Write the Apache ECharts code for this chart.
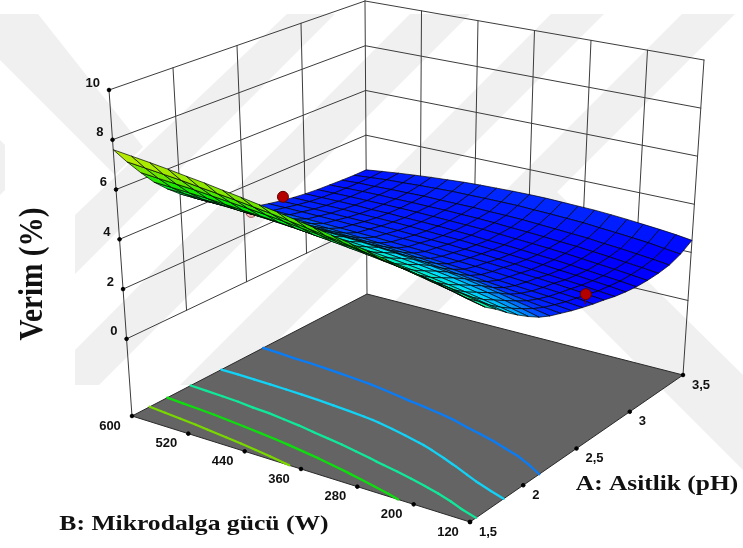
<!DOCTYPE html>
<html><head><meta charset="utf-8">
<style>html,body{margin:0;padding:0;background:#fff}#c{width:743px;height:548px}</style>
<script src="https://cdn.jsdelivr.net/npm/echarts@6/dist/echarts.min.js"></script>
</head><body><div id="c"></div>
<script>
// ---- chart data ----
const acidTicks = [1.5, 2, 2.5, 3, 3.5];
const acidLabels = ['1,5', '2', '2,5', '3', '3,5'];
const powerTicks = [120, 200, 280, 360, 440, 520, 600];
const yieldTicks = [0, 2, 4, 6, 8, 10];
const contourLevels = [2.95, 3.9, 4.8, 5.7, 6.6];
const acidMesh = [1.5,1.6,1.7,1.8,1.9,2.0,2.1,2.2,2.3,2.4,2.5,2.6,2.7,2.8,2.9,3.0,3.1,3.2,3.3,3.4,3.5];
const powerMesh = [120,144,168,192,216,240,264,288,312,336,360,384,408,432,456,480,504,528,552,576,600];
// rows: acidMesh, columns: powerMesh
const yieldGrid = [
[5.03,5.20,5.36,5.51,5.66,5.82,5.96,6.11,6.25,6.38,6.51,6.64,6.76,6.88,6.99,7.11,7.21,7.32,7.42,7.51,7.60],
[4.62,4.77,4.93,5.07,5.21,5.35,5.48,5.61,5.74,5.85,5.97,6.08,6.20,6.30,6.40,6.49,6.58,6.68,6.76,6.84,6.92],
[4.31,4.44,4.58,4.71,4.83,4.95,5.07,5.19,5.30,5.39,5.50,5.59,5.69,5.78,5.86,5.94,6.02,6.10,6.16,6.22,6.29],
[3.95,4.07,4.20,4.31,4.42,4.54,4.65,4.75,4.85,4.94,5.03,5.11,5.20,5.28,5.35,5.41,5.48,5.55,5.60,5.65,5.70],
[3.62,3.75,3.88,4.00,4.12,4.23,4.34,4.42,4.51,4.58,4.67,4.74,4.81,4.88,4.94,5.00,5.04,5.11,5.14,5.19,5.22],
[3.32,3.47,3.62,3.75,3.87,3.98,4.08,4.17,4.25,4.32,4.39,4.44,4.50,4.56,4.60,4.65,4.67,4.72,4.75,4.77,4.80],
[3.05,3.21,3.36,3.50,3.62,3.74,3.84,3.93,4.01,4.07,4.13,4.18,4.22,4.26,4.30,4.33,4.37,4.39,4.41,4.42,4.44],
[2.85,2.97,3.10,3.24,3.36,3.47,3.57,3.66,3.74,3.82,3.88,3.93,3.97,4.00,4.03,4.05,4.07,4.08,4.09,4.10,4.10],
[2.70,2.77,2.86,2.95,3.05,3.15,3.24,3.32,3.40,3.47,3.53,3.58,3.63,3.67,3.70,3.72,3.74,3.75,3.76,3.77,3.77],
[2.55,2.62,2.68,2.74,2.80,2.87,2.95,3.03,3.10,3.16,3.22,3.27,3.31,3.35,3.38,3.41,3.43,3.45,3.46,3.47,3.47],
[2.42,2.48,2.53,2.58,2.63,2.68,2.74,2.79,2.84,2.89,2.94,2.98,3.02,3.06,3.09,3.12,3.15,3.17,3.19,3.20,3.21],
[2.30,2.37,2.42,2.47,2.52,2.57,2.62,2.66,2.70,2.74,2.77,2.80,2.83,2.86,2.88,2.90,2.92,2.94,2.95,2.96,2.97],
[2.20,2.26,2.32,2.38,2.43,2.47,2.53,2.57,2.60,2.64,2.68,2.71,2.73,2.76,2.79,2.80,2.82,2.83,2.84,2.85,2.85],
[2.08,2.14,2.21,2.26,2.31,2.36,2.42,2.46,2.51,2.54,2.58,2.60,2.63,2.66,2.68,2.70,2.71,2.72,2.73,2.74,2.74],
[2.00,2.07,2.13,2.19,2.24,2.30,2.35,2.39,2.43,2.47,2.51,2.53,2.56,2.59,2.61,2.62,2.63,2.65,2.65,2.65,2.65],
[1.94,2.01,2.07,2.13,2.19,2.25,2.29,2.34,2.38,2.41,2.46,2.49,2.52,2.54,2.55,2.57,2.57,2.59,2.59,2.59,2.58],
[1.93,2.00,2.07,2.13,2.19,2.25,2.30,2.34,2.38,2.42,2.46,2.48,2.50,2.52,2.54,2.55,2.55,2.55,2.55,2.54,2.53],
[1.95,2.03,2.09,2.16,2.22,2.28,2.32,2.37,2.41,2.44,2.48,2.51,2.52,2.54,2.54,2.55,2.54,2.55,2.54,2.52,2.50],
[2.02,2.10,2.17,2.24,2.29,2.36,2.40,2.44,2.48,2.52,2.54,2.55,2.57,2.57,2.57,2.58,2.56,2.55,2.52,2.51,2.47],
[2.20,2.28,2.37,2.43,2.49,2.54,2.60,2.63,2.66,2.68,2.71,2.71,2.71,2.70,2.70,2.67,2.64,2.60,2.57,2.51,2.45],
[2.50,2.59,2.66,2.72,2.78,2.83,2.87,2.89,2.91,2.93,2.93,2.92,2.90,2.88,2.85,2.80,2.75,2.69,2.62,2.54,2.45]
];
// design points: acidity, power, measured yield, fitted yield
const designAbove = [[2.82, 600, 2.87, 2.72], [2.56, 125, 2.76, 2.38]];
const designBelow = [[2.56, 600, 2.82, 3.02]];

// ---- scene geometry (camera of the picture) ----
const FLOOR_Z = -3.1, TOP_Z = 10;
const floorQuad = [[470,522],[683,375],[367,294],[132,416]];
const topQuad = [[477,168],[704,60],[365,1],[109,90]];
const rampZ = [2.2,2.9,3.1,3.9,4.8,5.7,6.6,7.6];
const rampC = [[0,0,255],[0,45,255],[0,100,255],[0,225,255],[0,255,128],[0,230,0],[120,230,0],[215,240,0]];
const contourColors = ['#0a7cf5','#12d2f5','#10e89a','#10dc10','#78d800'];
const LINE = '#3c3c3c';

function quadMap(q){
  return (u,v)=>[0,1].map(n=>(1-u)*(1-v)*q[0][n]+u*(1-v)*q[1][n]+u*v*q[2][n]+(1-u)*v*q[3][n]);
}
const floorMap=quadMap(floorQuad), topMap=quadMap(topQuad);
function project(A,B,z){
  const u=(A-1.5)/2, v=(B-120)/480, t=(z-FLOOR_Z)/(TOP_Z-FLOOR_Z);
  const p=floorMap(u,v), q=topMap(u,v);
  return [p[0]+t*(q[0]-p[0]), p[1]+t*(q[1]-p[1])];
}
function rampColor(z){
  let k=0; while(k<rampZ.length-2 && z>rampZ[k+1]) k++;
  const t=Math.max(0,Math.min(1,(z-rampZ[k])/(rampZ[k+1]-rampZ[k])));
  const c=rampC[k].map((v,n)=>Math.round(v+t*(rampC[k+1][n]-v)));
  return 'rgb('+c.join(',')+')';
}
const toLine=(api,a,b,color,w)=>{const p=api.coord(a),q=api.coord(b);return {type:'line',silent:true,
  shape:{x1:p[0],y1:p[1],x2:q[0],y2:q[1]},style:{stroke:color,lineWidth:w,lineCap:'round'}};};
const dot=(api,a,r,fill,stroke)=>{const p=api.coord(a);return {type:'circle',shape:{cx:p[0],cy:p[1],r:r},style:{fill:fill,stroke:stroke||fill,lineWidth:1}};};
const label=(api,a,text,align,dx,dy,font)=>{const p=api.coord(a);return {type:'text',style:{text:text,x:p[0]+dx,y:p[1]+dy,align:align,verticalAlign:'middle',
  font:font||'bold 13px "Liberation Sans"',fill:'#111'}};};
function layer(data,renderItem,z){
  return {type:'custom',coordinateSystem:'cartesian2d',data:data,renderItem:renderItem,z:z,clip:false,silent:true,animation:false,progressive:0,
    encode:{x:0,y:1}};
}

// ---- wall gridlines ----
const wallRender=(p,api)=>{
  const kids=[];
  const Amin=acidTicks[0],Amax=acidTicks[acidTicks.length-1],Bmin=powerTicks[0],Bmax=powerTicks[powerTicks.length-1];
  yieldTicks.forEach(z=>{
    kids.push(toLine(api,project(Amin,Bmax,z),project(Amax,Bmax,z),LINE,1));
    kids.push(toLine(api,project(Amax,Bmax,z),project(Amax,Bmin,z),LINE,1));
  });
  acidTicks.forEach(a=>{const bottom=(a===Amin||a===Amax)?FLOOR_Z:0;
    kids.push(toLine(api,project(a,Bmax,bottom),project(a,Bmax,TOP_Z),LINE,1));});
  powerTicks.forEach(b=>{const bottom=(b===Bmin)?FLOOR_Z:0;
    if(b!==Bmax) kids.push(toLine(api,project(Amax,b,bottom),project(Amax,b,TOP_Z),LINE,1));});
  return {type:'group',children:kids};
};
// ---- floor ----
const floorRender=(p,api)=>({type:'polygon',shape:{points:[[1.5,120],[3.5,120],[3.5,600],[1.5,600]].map(c=>api.coord(project(c[0],c[1],FLOOR_Z)))},
  style:{fill:'#646464',stroke:'#2a2a2a',lineWidth:1}});
// ---- contours on the floor, from the same table ----
function contourSegments(level){
  const segs=[];
  const cross=(i1,j1,i2,j2)=>{const a=yieldGrid[i1][j1],b=yieldGrid[i2][j2];
    if((a<level)===(b<level))return null;const t=(level-a)/(b-a);
    return [acidMesh[i1]+t*(acidMesh[i2]-acidMesh[i1]),powerMesh[j1]+t*(powerMesh[j2]-powerMesh[j1])];};
  for(let i=0;i<acidMesh.length-1;i++)for(let j=0;j<powerMesh.length-1;j++){
    const c=[cross(i,j,i+1,j),cross(i+1,j,i+1,j+1),cross(i,j+1,i+1,j+1),cross(i,j,i,j+1)].filter(Boolean);
    if(c.length>=2)segs.push([c[0],c[1]]);
    if(c.length===4)segs.push([c[2],c[3]]);
  }
  return segs;
}
const contourRender=(p,api)=>{const k=api.value(0);
  return {type:'group',children:contourSegments(contourLevels[k]).map(s=>
    toLine(api,project(s[0][0],s[0][1],FLOOR_Z),project(s[1][0],s[1][1],FLOOR_Z),contourColors[k],2.3))};};
// ---- surface mesh: far cells first ----
const cells=[];
for(let s=(acidMesh.length-2)+(powerMesh.length-2);s>=0;s--)
  for(let i=0;i<acidMesh.length-1;i++){const j=s-i;if(j>=0&&j<powerMesh.length-1)cells.push([i,j]);}
const cellRender=(p,api)=>{
  const i=api.value(0),j=api.value(1);
  const c=[[i,j],[i+1,j],[i+1,j+1],[i,j+1]];
  const zs=c.map(q=>yieldGrid[q[0]][q[1]]);
  const pts=c.map((q,n)=>api.coord(project(acidMesh[q[0]],powerMesh[q[1]],zs[n])));
  return {type:'polygon',shape:{points:pts},style:{fill:rampColor((zs[0]+zs[1]+zs[2]+zs[3])/4),stroke:'#000',lineWidth:0.7,lineJoin:'round'}};
};
// ---- design points ----
const pointRender=(fill,stroke)=>(p,api)=>{
  const A=api.value(0),B=api.value(1),z=api.value(2),f=api.value(3);
  return {type:'group',children:[toLine(api,project(A,B,z),project(A,B,f),'#700000',1),dot(api,project(A,B,z),5.5,fill,stroke)]};
};
// ---- ticks and labels ----
const tickRender=(p,api)=>{
  const kids=[];
  const bL='bold 13px "Liberation Sans"';
  yieldTicks.forEach(z=>{const a=project(1.5,600,z);kids.push(dot(api,a,1.8,'#000'));kids.push(label(api,a,String(z),'right',-9,-7,bL));});
  powerTicks.forEach(b=>{const a=project(1.5,b,FLOOR_Z);kids.push(dot(api,a,1.8,'#000'));kids.push(label(api,a,String(b),'center',-22,10,bL));});
  acidTicks.forEach((v,n)=>{const a=project(v,120,FLOOR_Z);kids.push(dot(api,a,1.8,'#000'));kids.push(label(api,a,acidLabels[n],'left',9,10,bL));});
  return {type:'group',children:kids};
};

const bandFill='#f0f0f0';
const bands=[
 [[0,14],[38,14],[143,147],[115,175],[0,60]],
 [[287,14],[335,14],[75,274],[75,215]],
 [[410,14],[470,14],[99,385],[75,385],[75,350]],
 [[551,14],[604,14],[233,385],[180,385]],
 [[682,14],[735,14],[364,385],[311,385]],
 [[555,190],[743,375],[743,470],[520,247]],
 [[0,140],[5,145],[5,190],[0,195]]
];
const chart=echarts.init(document.getElementById('c'),null,{renderer:'canvas'});
chart.setOption({
  animation:false,backgroundColor:'#fff',
  grid:{left:0,right:0,top:0,bottom:0},
  xAxis:{type:'value',min:0,max:743,show:false},
  yAxis:{type:'value',min:0,max:548,inverse:true,show:false},
  tooltip:{show:false},
  graphic:[
    ...bands.map(b=>({type:'polygon',silent:true,z:0,shape:{points:b},style:{fill:bandFill}})),
    {type:'text',silent:true,z:20,x:33,y:274,rotation:Math.PI/2,scaleX:0.86,style:{text:'Verim (%)',font:'bold 34px "Liberation Serif"',fill:'#111',align:'center',verticalAlign:'middle'}},
    {type:'text',silent:true,z:20,x:194,y:525,scaleX:1.22,style:{text:'B: Mikrodalga gücü (W)',font:'bold 21px "Liberation Serif"',fill:'#111',align:'center',verticalAlign:'middle'}},
    {type:'text',silent:true,z:20,x:657,y:485,scaleX:1.21,style:{text:'A: Asitlik (pH)',font:'bold 21px "Liberation Serif"',fill:'#111',align:'center',verticalAlign:'middle'}}
  ],
  series:[
    layer([[0,0]],wallRender,2),
    layer([[0,0]],floorRender,3),
    layer(contourLevels.map((v,k)=>[k,v]),contourRender,4),
    layer(designBelow,pointRender('#f4b8b8','#a06060'),5),
    layer(cells,cellRender,6),
    layer(designAbove,pointRender('#b50000','#600000'),7),
    layer([[0,0]],tickRender,8)
  ]
});
</script></body></html>
